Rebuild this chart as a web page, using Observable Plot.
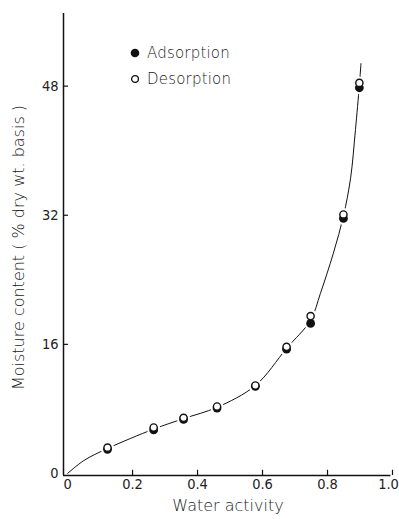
<!DOCTYPE html>
<html>
<head>
<meta charset="utf-8">
<script src="https://cdn.jsdelivr.net/npm/d3@7"></script>
<script src="https://cdn.jsdelivr.net/npm/@observablehq/plot@0.6"></script>
<style>
  html, body { margin: 0; padding: 0; background: #fff; }
  #wrap { position: relative; width: 399px; height: 519px; }
  #legend {
    position: absolute; left: 130px; top: 40px;
    font-family: "DejaVu Sans", sans-serif; font-weight: 200; font-size: 15px;
    color: #222; letter-spacing: 0.2px;
  }
  #legend div { height: 26px; display: flex; align-items: center; }
  #legend svg { margin-right: 7px; }
</style>
</head>
<body>
<div id="wrap">
  <div id="chart"></div>
  <div id="legend">
    <div><svg width="10" height="10"><circle cx="5" cy="5" r="4.3" fill="#111"/></svg>Adsorption</div>
    <div><svg width="10" height="10"><circle cx="5" cy="5" r="3.4" fill="#fff" stroke="#111" stroke-width="1.3"/></svg>Desorption</div>
  </div>
</div>
<script>
// Sorption isotherm: moisture content vs water activity
const waterActivity = [0.123, 0.265, 0.357, 0.46, 0.578, 0.674, 0.748, 0.849, 0.898];
const adsorption    = [3.0, 5.4, 6.7, 8.1, 10.8, 15.4, 18.6, 31.6, 47.8];
const desorption    = [3.2, 5.7, 6.9, 8.3, 10.9, 15.7, 19.5, 32.1, 48.4];

// Hand-fitted isotherm curve drawn through the points
const curveAw = [0, 0.05, 0.123, 0.265, 0.357, 0.46, 0.578, 0.674, 0.748, 0.778, 0.818, 0.849, 0.871, 0.886, 0.898, 0.903];
const curveMc = [0, 1.6, 3.1, 5.5, 6.8, 8.2, 10.9, 15.5, 19.0, 22.3, 27.3, 31.9, 36.6, 42.6, 48.1, 50.8];

const xTicks = [0, 0.2, 0.4, 0.6, 0.8, 1.0];
const xTickLabels = ["0", "0.2", "0.4", "0.6", "0.8", "1.0"];
const yTicks = [0, 16, 32, 48];

const xMin = -0.0125, yMin = -0.25, yMax = 57;

const ads = waterActivity.map((a, i) => ({aw: a, mc: adsorption[i]}));
const des = waterActivity.map((a, i) => ({aw: a, mc: desorption[i]}));
const curve = curveAw.map((a, i) => ({aw: a, mc: curveMc[i]}));

const ink = "#111";
const tickFont = {fontFamily: "'DejaVu Sans Condensed', 'DejaVu Sans', sans-serif", fontSize: 14.5, fill: "#222"};
const labelFont = {fontFamily: "'DejaVu Sans', sans-serif", fontWeight: 200, fontSize: 16, fill: "#222"};
const fmtX = (d) => xTickLabels[xTicks.indexOf(d)];

const chart = Plot.plot({
  width: 399,
  height: 519,
  marginLeft: 63,
  marginRight: 7,
  marginTop: 13,
  marginBottom: 44,
  x: {domain: [xMin, 1.0]},
  y: {domain: [yMin, yMax]},
  style: {background: "#fff", overflow: "visible"},
  marks: [
    // fitted curve
    Plot.line(curve, {x: "aw", y: "mc", curve: "catmull-rom", stroke: ink, strokeWidth: 1}),
    // white gaps in the curve around each marker
    Plot.dot(ads, {x: "aw", y: "mc", r: 6.5, fill: "#fff"}),
    Plot.dot(des, {x: "aw", y: "mc", r: 6.5, fill: "#fff"}),
    // adsorption (filled) under desorption (open)
    Plot.dot(ads, {x: "aw", y: "mc", r: 4.4, fill: ink}),
    Plot.dot(des, {x: "aw", y: "mc", r: 3.6, fill: "#fff", stroke: ink, strokeWidth: 1.4}),
    // axis lines
    Plot.ruleX([xMin], {stroke: ink, strokeWidth: 1.5}),
    Plot.ruleY([yMin], {x1: xMin, x2: 0.995, stroke: ink, strokeWidth: 1.5}),
    // inward ticks
    Plot.ruleX(xTicks.slice(1), {y1: yMin, y2: 0.4, stroke: ink, strokeWidth: 1.2}),
    Plot.ruleY(yTicks.slice(1), {x1: xMin, x2: 0.003, stroke: ink, strokeWidth: 1.2}),
    // tick labels (the last one nudged in from the edge)
    Plot.axisX(xTicks.slice(0, -1), {tickSize: 0, tickPadding: 3, tickFormat: fmtX, label: null, ...tickFont}),
    Plot.axisX(xTicks.slice(-1), {tickSize: 0, tickPadding: 3, tickFormat: fmtX, label: null, dx: -4, ...tickFont}),
    Plot.axisY(yTicks, {tickSize: 0, tickPadding: 5, label: null, ...tickFont}),
    // axis titles
    Plot.text(["Water activity"], {frameAnchor: "bottom", dy: 35, letterSpacing: "2.4px", ...labelFont}),
    Plot.text(["Moisture content ( % dry wt. basis )"], {frameAnchor: "left", textAnchor: "middle", rotate: -90, dx: -45, dy: 3, letterSpacing: "2.5px", wordSpacing: "2px", ...labelFont})
  ]
});

document.getElementById("chart").appendChild(chart);
</script>
</body>
</html>
